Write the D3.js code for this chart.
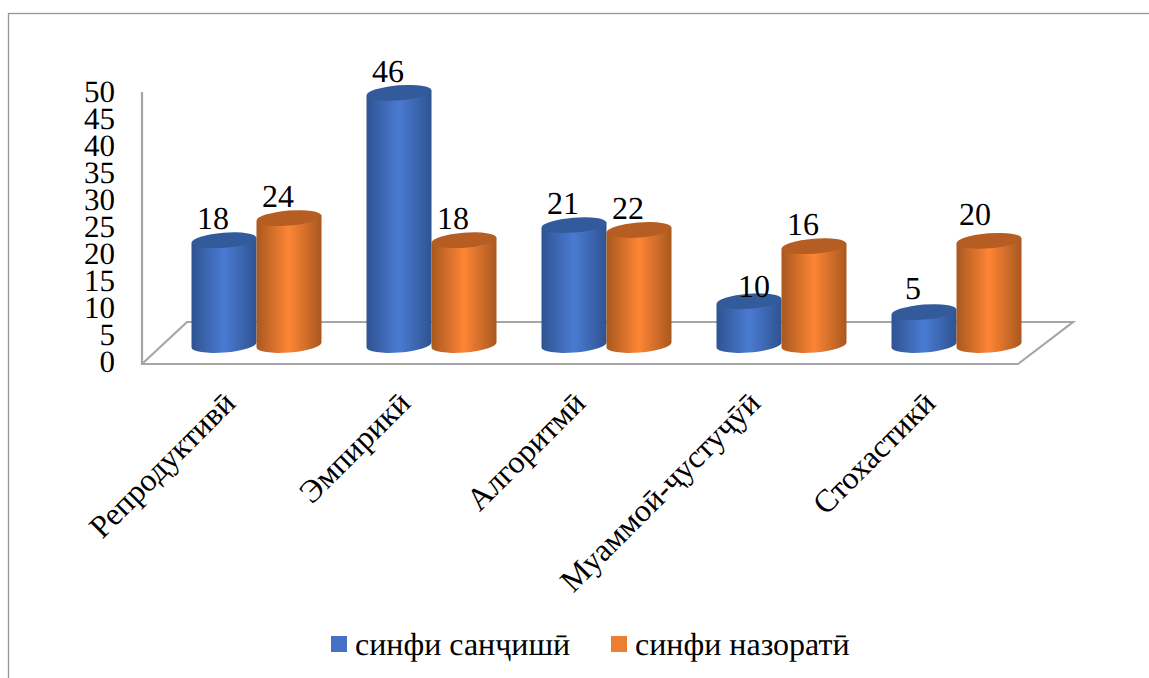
<!DOCTYPE html>
<html>
<head>
<meta charset="utf-8">
<script src="https://cdn.jsdelivr.net/npm/d3@7"></script>
<style>
  html, body { margin: 0; padding: 0; background: #fff; }
  text { font-family: "Liberation Serif", serif; fill: #000; text-rendering: geometricPrecision; }
</style>
</head>
<body>
<div id="chart"></div>
<script>
var categories = ["Репродуктивӣ", "Эмпирикӣ", "Алгоритмӣ", "Муаммоӣ-ҷустуҷӯӣ", "Стохастикӣ"];
var seriesNames = ["синфи санҷишӣ", "синфи назоратӣ"];
var yTicks = [0, 5, 10, 15, 20, 25, 30, 35, 40, 45, 50];

// printed data labels
var labelsEntry = [18, 46, 21, 10, 5];
var labelsControl = [24, 18, 22, 16, 20];

// the drawn cylinders do not agree with their printed labels, so the
// heights are read separately against the axis
var heightsEntry = [19.4, 46.7, 22.2, 8.1, 6.1];
var heightsControl = [23.5, 19.4, 21.3, 18.3, 19.3];

var width = 1149, height = 678;
var depth = { x: 45, y: -40 };   // floor front edge to back edge
var barShift = -17;              // bars stand part way back on the floor
var tilt = -4.5, ry = 7.5;

var svg = d3.select("#chart").append("svg").attr("width", width).attr("height", height)
    .style("display", "block");

var defs = svg.append("defs");
function gradient(id, edge, mid, edge2) {
    var g = defs.append("linearGradient").attr("id", id);
    g.append("stop").attr("offset", "0%").attr("stop-color", edge);
    g.append("stop").attr("offset", "50%").attr("stop-color", mid);
    g.append("stop").attr("offset", "100%").attr("stop-color", edge2);
}
gradient("cyl0", "#2f5391", "#4a7bd2", "#2f5391");
gradient("cyl1", "#a9581f", "#fd8535", "#a9581f");
var topColors = ["#335a9b", "#b55d22"];
var legendColors = ["#4472c4", "#ed7d31"];

// outer frame, runs off the right and bottom of the picture
svg.append("rect").attr("x", 8.5).attr("y", 13.5).attr("width", 1160).attr("height", 700)
    .attr("fill", "none").attr("stroke", "#969696").attr("stroke-width", 1.3);

var y = d3.scaleLinear().domain([0, 50]).range([362, 92]);
var x = d3.scaleBand().domain(categories).range([168.5, 1043.5]);
var inner = d3.scaleBand().domain([0, 1]).range([-64.5, 65.5]);

// floor and wall edge
var floorLeft = 142, floorRight = 1018;
var wall = d3.line();
svg.append("path")
    .attr("d", wall([[floorLeft, y(50)], [floorLeft, y(0) + 2], [floorRight, y(0) + 2],
        [floorRight + depth.x + 10, y(0) + depth.y], [floorLeft + depth.x, y(0) + depth.y], [floorLeft, y(0) + 2]]))
    .attr("fill", "none").attr("stroke", "#a6a6a6").attr("stroke-width", 2.2);

var yAxis = d3.axisLeft(y).tickValues(yTicks).tickSize(0).tickPadding(0);
var axisG = svg.append("g").attr("transform", "translate(115,0)").call(yAxis);
axisG.select(".domain").remove();
axisG.selectAll("text").attr("font-size", 31).attr("dy", "0.3em")
    .style("font-family", '"Liberation Serif", serif');

var barData = [];
categories.forEach(function(c, i) {
    barData.push({ cat: c, s: 0, h: heightsEntry[i], label: labelsEntry[i] });
    barData.push({ cat: c, s: 1, h: heightsControl[i], label: labelsControl[i] });
});

function cylinder(d) {
    var l = x(d.cat) + x.bandwidth() / 2 + inner(d.s),
        r = l + inner.bandwidth(),
        rx = inner.bandwidth() / 2,
        b = y(0) + barShift,
        t = y(d.h) + barShift,
        dy = rx * Math.sin(-tilt * Math.PI / 180);
    return "M" + l + "," + (t + dy) + "L" + l + "," + (b + dy) +
        "A" + rx + "," + ry + " " + tilt + " 0 0 " + r + "," + (b - dy) +
        "L" + r + "," + (t - dy) + "Z";
}
function centre(d) { return x(d.cat) + x.bandwidth() / 2 + inner(d.s) + inner.bandwidth() / 2; }

var bars = svg.append("g").selectAll("g").data(barData).join("g");
bars.append("path").attr("d", cylinder).attr("fill", function(d) { return "url(#cyl" + d.s + ")"; });
bars.append("ellipse")
    .attr("rx", inner.bandwidth() / 2).attr("ry", ry)
    .attr("transform", function(d) {
        return "translate(" + centre(d) + "," + (y(d.h) + barShift) + ") rotate(" + tilt + ")";
    })
    .attr("fill", function(d) { return topColors[d.s]; });

// data labels sit up and to the left of each top; a few were dragged further
var nudge = { "Муаммоӣ-ҷустуҷӯӣ0": [16, 7], "Стохастикӣ1": [-3, -5], "Стохастикӣ0": [0, -2] };
svg.append("g").selectAll("text").data(barData).join("text")
    .attr("text-anchor", "middle").attr("font-size", 32)
    .attr("x", function(d) { var n = nudge[d.cat + d.s]; return centre(d) - 11 + (n ? n[0] : 0); })
    .attr("y", function(d) { var n = nudge[d.cat + d.s]; return y(d.h) + barShift - 11 + (n ? n[1] : 0); })
    .text(function(d) { return d.label; });

// category labels, rotated 45deg and ending under each group
svg.append("g").selectAll("text").data(categories).join("text")
    .attr("text-anchor", "end").attr("font-size", 32)
    .attr("transform", function(d) {
        return "translate(" + (x(d) + x.bandwidth() / 2 - 19) + ",405) rotate(-45)";
    })
    .text(function(d) { return d; });

// legend
var legendX = [331, 611];
var legend = svg.append("g").selectAll("g").data(seriesNames).join("g")
    .attr("transform", function(d, i) { return "translate(" + legendX[i] + ",636)"; });
legend.append("rect").attr("width", 16).attr("height", 16)
    .attr("fill", function(d, i) { return legendColors[i]; });
legend.append("text").attr("x", 24).attr("y", 19).attr("font-size", 32).text(function(d) { return d; });
</script>
</body>
</html>
